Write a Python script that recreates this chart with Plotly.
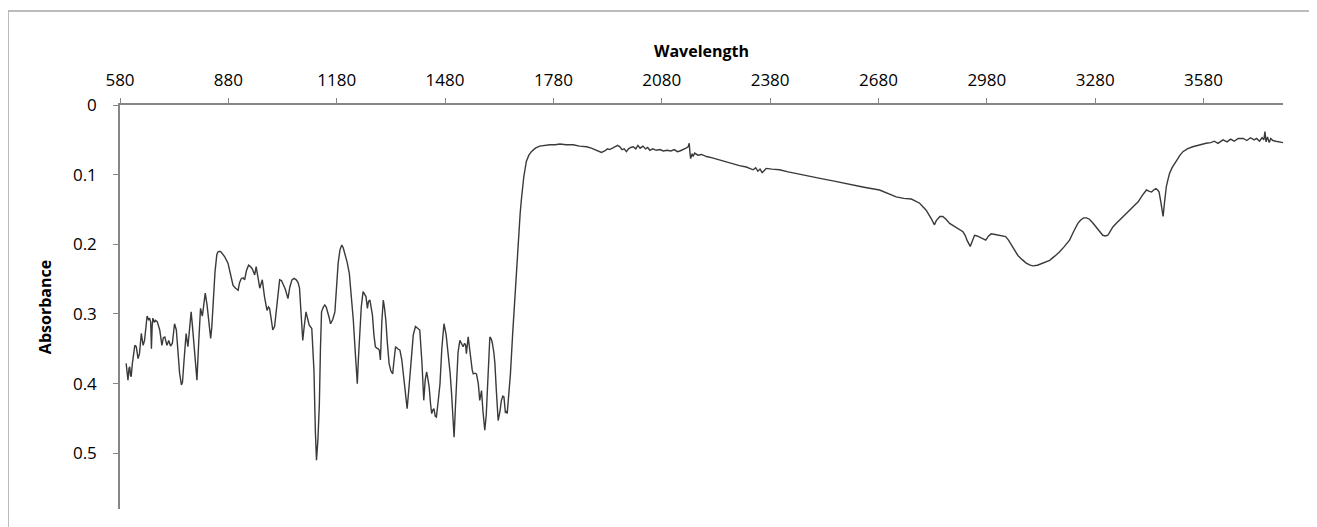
import plotly.graph_objects as go

# Wavelength (x) and absorbance (y) values
wavelength = [
    597, 600, 602, 605, 607, 609, 611, 614, 616, 621, 625, 630, 634, 639, 644, 648, 652, 655, 659, 662,
    665, 667, 669, 671, 675, 678, 683, 690, 696, 700, 704, 710, 715, 720, 725, 731, 736, 741, 745, 750,
    753, 757, 763, 768, 772, 777, 781, 785, 789, 793, 798, 803, 808, 812, 816, 821, 826, 831, 834, 837,
    843, 848, 851, 856, 860, 870, 879, 886, 893, 900, 907, 911, 916, 921, 925, 930, 936, 941, 946, 950,
    953, 957, 962, 967, 971, 974, 980, 987, 991, 994, 998, 1003, 1008, 1013, 1018, 1022, 1027, 1031, 1038, 1045,
    1050, 1056, 1062, 1068, 1073, 1077, 1082, 1086, 1090, 1095, 1100, 1104, 1111, 1114, 1117, 1121, 1124, 1128, 1132, 1135,
    1138, 1143, 1147, 1151, 1154, 1159, 1163, 1169, 1175, 1179, 1184, 1189, 1194, 1198, 1203, 1209, 1215, 1220, 1226, 1232,
    1237, 1240, 1244, 1248, 1253, 1257, 1261, 1265, 1268, 1272, 1276, 1279, 1283, 1287, 1291, 1295, 1298, 1301, 1305, 1309,
    1312, 1316, 1320, 1325, 1330, 1335, 1339, 1343, 1349, 1355, 1360, 1364, 1369, 1375, 1381, 1387, 1392, 1398, 1404, 1410,
    1416, 1421, 1425, 1429, 1433, 1436, 1440, 1443, 1446, 1449, 1453, 1456, 1461, 1466, 1471, 1477, 1483, 1489, 1494, 1498,
    1502, 1505, 1509, 1512, 1516, 1521, 1525, 1530, 1534, 1537, 1539, 1544, 1548, 1551, 1555, 1558, 1563, 1567, 1572, 1576,
    1579, 1581, 1585, 1590, 1594, 1597, 1600, 1604, 1608, 1611, 1615, 1618, 1622, 1627, 1632, 1636, 1640, 1643, 1647, 1650,
    1652, 1656, 1661, 1667, 1673, 1680, 1685, 1688, 1692, 1698, 1705, 1712, 1719, 1730, 1742, 1755, 1770, 1785, 1798, 1815,
    1835, 1852, 1872, 1885, 1895, 1905, 1913, 1922, 1930, 1936, 1945, 1952, 1958, 1964, 1970, 1976, 1982, 1988, 1994, 2001,
    2008, 2014, 2020, 2028, 2035, 2041, 2047, 2055, 2065, 2075, 2084, 2095, 2105, 2115, 2123, 2130, 2140, 2147, 2153, 2156,
    2158, 2160, 2164, 2167, 2171, 2180, 2190, 2204, 2220, 2241, 2260, 2277, 2295, 2314, 2325, 2333, 2340, 2346, 2352, 2358,
    2364, 2369, 2385, 2406, 2430, 2462, 2499, 2525, 2554, 2580, 2609, 2640, 2683, 2710, 2729, 2750, 2771, 2794, 2812, 2826,
    2835, 2840, 2844, 2850, 2858, 2867, 2877, 2886, 2895, 2905, 2914, 2920, 2925, 2934, 2940, 2946, 2953, 2960, 2970, 2977,
    2985, 2992, 3003, 3015, 3032, 3040, 3048, 3057, 3066, 3078, 3089, 3100, 3108, 3120, 3131, 3142, 3154, 3168, 3181, 3195,
    3209, 3220, 3232, 3240, 3248, 3256, 3264, 3273, 3283, 3292, 3301, 3308, 3315, 3322, 3329, 3338, 3348, 3362, 3375, 3387,
    3399, 3410, 3422, 3430, 3436, 3442, 3448, 3453, 3457, 3462, 3468, 3472, 3477, 3482, 3486, 3493, 3500, 3508, 3515, 3523,
    3535, 3550, 3565, 3575, 3587, 3600, 3610, 3620, 3634, 3645, 3655, 3665, 3676, 3690, 3700, 3710, 3720, 3727, 3735, 3742,
    3747, 3750, 3753, 3757, 3762, 3766, 3772, 3780, 3790, 3800,
]

absorbance = [
    0.371, 0.392, 0.395, 0.378, 0.376, 0.388, 0.390, 0.372, 0.362, 0.345, 0.347, 0.364, 0.357, 0.328, 0.345, 0.338, 0.318, 0.303, 0.308, 0.306,
    0.312, 0.350, 0.318, 0.306, 0.312, 0.309, 0.311, 0.323, 0.345, 0.334, 0.333, 0.345, 0.338, 0.346, 0.342, 0.314, 0.323, 0.359, 0.385, 0.402,
    0.398, 0.369, 0.328, 0.347, 0.320, 0.297, 0.320, 0.347, 0.380, 0.395, 0.340, 0.292, 0.303, 0.285, 0.270, 0.287, 0.315, 0.335, 0.320, 0.290,
    0.240, 0.215, 0.211, 0.210, 0.211, 0.218, 0.227, 0.243, 0.259, 0.263, 0.266, 0.255, 0.249, 0.248, 0.251, 0.238, 0.230, 0.232, 0.235, 0.240,
    0.244, 0.232, 0.245, 0.263, 0.256, 0.251, 0.275, 0.295, 0.290, 0.292, 0.305, 0.323, 0.318, 0.290, 0.262, 0.251, 0.252, 0.256, 0.265, 0.278,
    0.262, 0.251, 0.249, 0.251, 0.255, 0.263, 0.300, 0.338, 0.318, 0.297, 0.308, 0.316, 0.321, 0.345, 0.381, 0.470, 0.510, 0.480, 0.429, 0.350,
    0.297, 0.290, 0.287, 0.290, 0.295, 0.305, 0.314, 0.308, 0.297, 0.265, 0.227, 0.208, 0.201, 0.205, 0.213, 0.226, 0.242, 0.270, 0.309, 0.360,
    0.400, 0.365, 0.323, 0.290, 0.268, 0.272, 0.275, 0.292, 0.282, 0.280, 0.290, 0.302, 0.330, 0.347, 0.349, 0.350, 0.352, 0.366, 0.310, 0.280,
    0.290, 0.309, 0.340, 0.371, 0.382, 0.386, 0.365, 0.347, 0.350, 0.352, 0.365, 0.386, 0.410, 0.436, 0.400, 0.362, 0.330, 0.318, 0.320, 0.323,
    0.370, 0.424, 0.395, 0.383, 0.395, 0.405, 0.430, 0.443, 0.438, 0.436, 0.447, 0.448, 0.425, 0.400, 0.350, 0.314, 0.330, 0.357, 0.385, 0.414,
    0.450, 0.477, 0.430, 0.390, 0.355, 0.338, 0.342, 0.347, 0.342, 0.345, 0.357, 0.333, 0.350, 0.364, 0.380, 0.386, 0.385, 0.386, 0.400, 0.424,
    0.410, 0.410, 0.440, 0.467, 0.445, 0.414, 0.370, 0.333, 0.336, 0.342, 0.355, 0.371, 0.410, 0.453, 0.440, 0.424, 0.418, 0.419, 0.441, 0.440,
    0.443, 0.420, 0.386, 0.330, 0.275, 0.220, 0.180, 0.155, 0.132, 0.103, 0.081, 0.072, 0.067, 0.062, 0.059, 0.058, 0.057, 0.057, 0.056, 0.057,
    0.057, 0.059, 0.060, 0.062, 0.064, 0.066, 0.068, 0.066, 0.063, 0.064, 0.062, 0.060, 0.058, 0.060, 0.064, 0.063, 0.067, 0.063, 0.061, 0.060,
    0.063, 0.058, 0.062, 0.059, 0.063, 0.061, 0.065, 0.063, 0.065, 0.064, 0.066, 0.065, 0.066, 0.064, 0.067, 0.066, 0.064, 0.062, 0.060, 0.055,
    0.068, 0.077, 0.070, 0.074, 0.069, 0.072, 0.071, 0.074, 0.076, 0.079, 0.082, 0.085, 0.087, 0.089, 0.091, 0.093, 0.090, 0.095, 0.092, 0.097,
    0.094, 0.091, 0.092, 0.093, 0.096, 0.099, 0.103, 0.106, 0.109, 0.112, 0.115, 0.118, 0.122, 0.128, 0.132, 0.134, 0.135, 0.141, 0.151, 0.163,
    0.172, 0.166, 0.163, 0.160, 0.160, 0.164, 0.170, 0.173, 0.176, 0.179, 0.182, 0.187, 0.194, 0.203, 0.195, 0.187, 0.188, 0.190, 0.193, 0.194,
    0.188, 0.185, 0.186, 0.187, 0.189, 0.194, 0.201, 0.208, 0.216, 0.222, 0.227, 0.230, 0.231, 0.230, 0.228, 0.226, 0.223, 0.217, 0.211, 0.203,
    0.194, 0.182, 0.170, 0.165, 0.162, 0.162, 0.164, 0.169, 0.175, 0.181, 0.187, 0.188, 0.187, 0.181, 0.175, 0.170, 0.165, 0.158, 0.151, 0.145,
    0.139, 0.130, 0.122, 0.124, 0.125, 0.122, 0.120, 0.122, 0.125, 0.140, 0.160, 0.140, 0.117, 0.106, 0.098, 0.090, 0.084, 0.078, 0.072, 0.067,
    0.063, 0.060, 0.058, 0.056, 0.055, 0.054, 0.052, 0.055, 0.050, 0.053, 0.049, 0.052, 0.048, 0.048, 0.051, 0.047, 0.050, 0.048, 0.052, 0.047,
    0.050, 0.038, 0.053, 0.046, 0.054, 0.048, 0.051, 0.052, 0.053, 0.054,
]

x_ticks = [580, 880, 1180, 1480, 1780, 2080, 2380, 2680, 2980, 3280, 3580]
y_ticks = [0, 0.1, 0.2, 0.3, 0.4, 0.5]
x_title = "Wavelength"
y_title = "Absorbance"

FONT = "Open Sans"
AXIS_GREY = "#868686"
FRAME_GREY = "#a6a6a6"

fig = go.Figure()
fig.add_trace(go.Scatter(
    x=wavelength, y=absorbance, mode="lines",
    line=dict(color="#3a3a3a", width=1.4),
    showlegend=False, hoverinfo="x+y",
))

# The page body adds an 8px offset, so the figure is 8px smaller and margins compensate.
# Chart frame: only the top and left edges are visible in the cropped reference.
fig.update_layout(
    width=1309, height=519,
    margin=dict(l=112, r=34, t=97, b=18),
    paper_bgcolor="white", plot_bgcolor="white",
    font=dict(family=FONT, color="#000000", size=17),
    shapes=[
        dict(type="line", xref="paper", yref="paper",
             x0=-0.0963, x1=1.2, y0=1.2327, y1=1.2327,
             line=dict(color=FRAME_GREY, width=1.5), layer="below"),
        dict(type="line", xref="paper", yref="paper",
             x0=-0.0963, x1=-0.0963, y0=-0.3, y1=1.2327,
             line=dict(color=FRAME_GREY, width=1.5), layer="below"),
    ],
)

fig.update_xaxes(
    side="top", range=[580, 3800],
    tickmode="array", tickvals=x_ticks, ticktext=[str(v) for v in x_ticks],
    ticks="outside", ticklen=5, tickwidth=1, tickcolor=AXIS_GREY,
    showline=True, linecolor=AXIS_GREY, linewidth=1.5,
    showgrid=False, zeroline=False,
    tickfont=dict(family=FONT, size=17, color="#000000"),
    ticklabelstandoff=5,
    title=dict(text="<b>" + x_title + "</b>", font=dict(family=FONT, size=16, color="#000000"), standoff=7),
)

fig.update_yaxes(
    range=[0.58, 0],
    tickmode="array", tickvals=y_ticks, ticktext=["0", "0.1", "0.2", "0.3", "0.4", "0.5"],
    ticks="outside", ticklen=5, tickwidth=1, tickcolor=AXIS_GREY,
    showline=True, linecolor=AXIS_GREY, linewidth=1.5,
    showgrid=False, zeroline=False,
    tickfont=dict(family=FONT, size=17, color="#000000"),
    ticklabelstandoff=13,
    title=dict(text="<b>" + y_title + "</b>", font=dict(family=FONT, size=16, color="#000000"), standoff=17),
)

fig.write_html("out.html")
